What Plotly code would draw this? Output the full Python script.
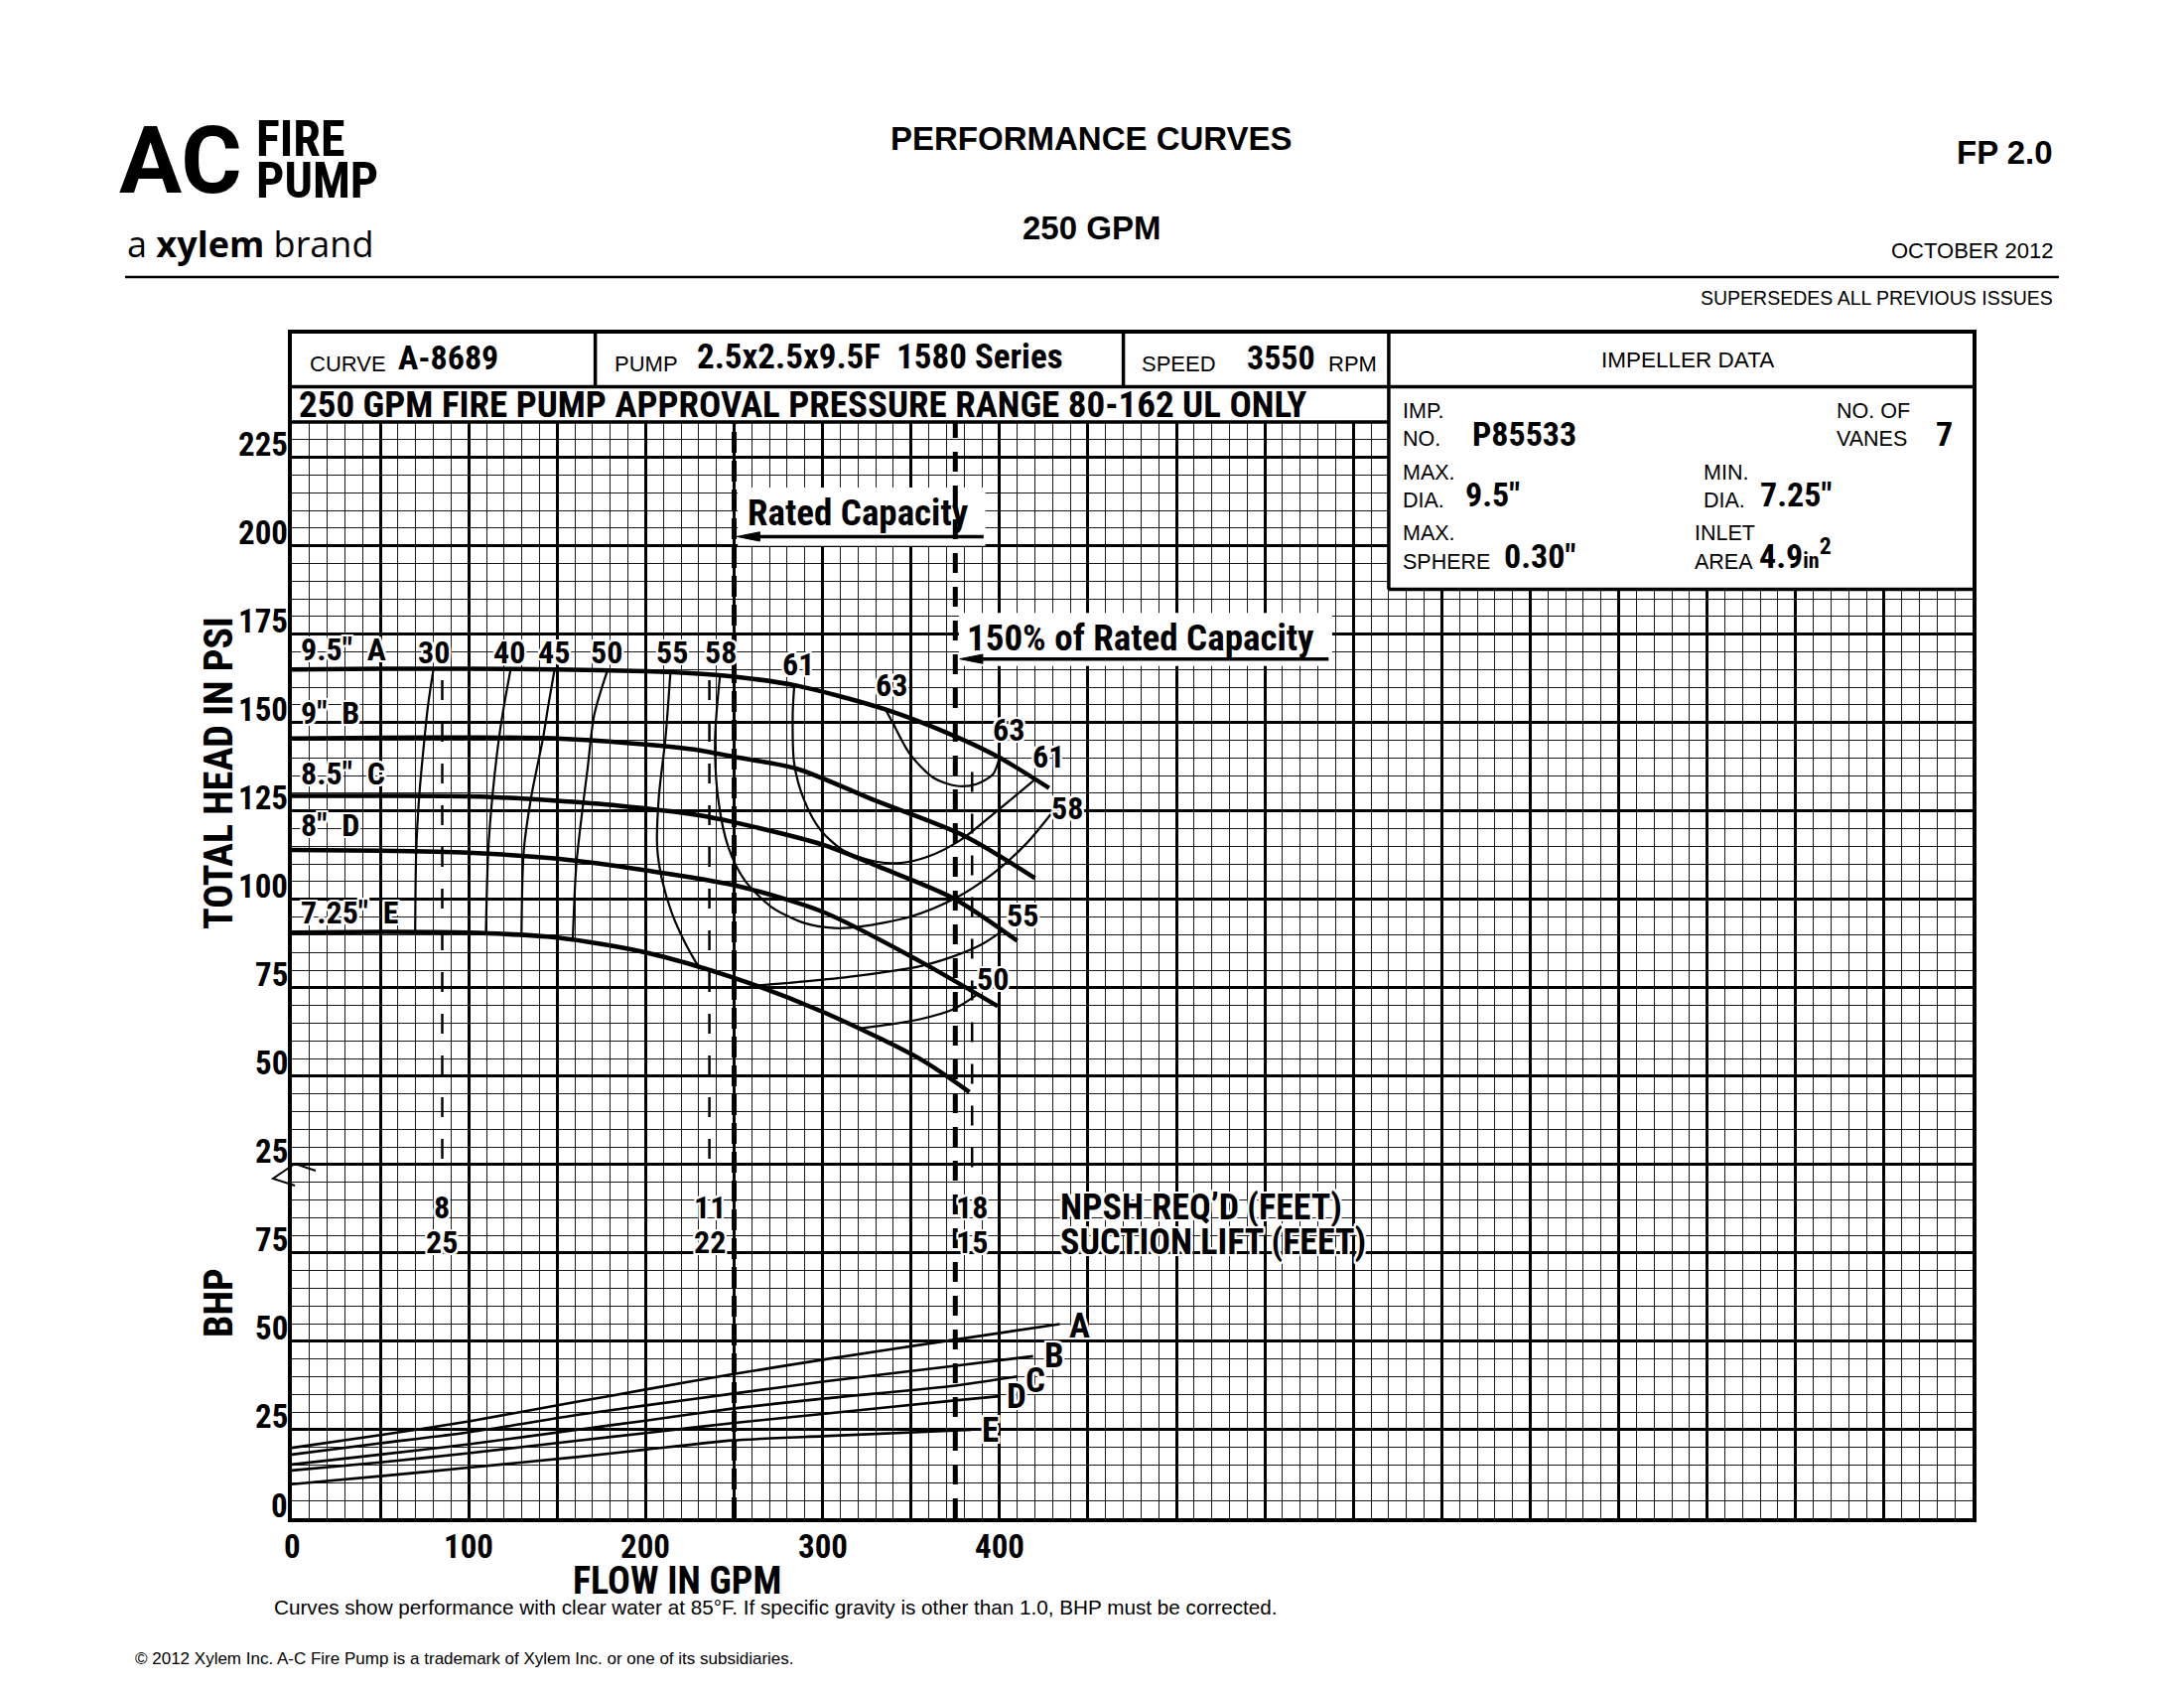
import plotly.graph_objects as go

# ---- Total head (psi) vs flow (gpm) for each impeller trim ----
flow_a = [0, 50, 100, 150, 200, 230, 250, 285, 335, 375, 400, 428]
head_a = [165.0, 165.2, 165.2, 165.0, 164.5, 163.8, 163.0, 160.5, 153.8, 146.1, 140.1, 131.5]
flow_b = [0, 50, 100, 150, 200, 230, 250, 285, 330, 380, 420]
head_b = [145.5, 145.7, 145.8, 145.5, 143.8, 142.2, 140.3, 137.0, 127.9, 118.0, 106.0]
flow_c = [0, 50, 110, 185, 230, 250, 300, 335, 374, 410]
head_c = [129.3, 129.3, 129.0, 126.5, 123.8, 121.8, 115.5, 108.6, 100.3, 88.3]
flow_d = [0, 50, 100, 150, 200, 250, 300, 355, 399]
head_d = [114.0, 113.8, 113.2, 111.5, 108.2, 104.0, 96.5, 82.5, 69.8]
flow_e = [0, 50, 100, 150, 200, 250, 300, 355, 383]
head_e = [90.6, 90.8, 90.6, 89.2, 85.0, 77.8, 68.2, 54.9, 45.5]
trim_labels = ['9.5"\u00a0\u00a0A', '9"\u00a0\u00a0B', '8.5"\u00a0\u00a0C', '8"\u00a0\u00a0D', '7.25"\u00a0\u00a0E']
trim_label_head = [170.6, 152.7, 135.6, 120.9, 96.2]

# ---- Efficiency contours (%) ----
eff30_flow = [80, 77, 75, 72, 70.3, 69.7]
eff30_head = [165.0, 155, 145.7, 129.3, 113.8, 90.8]
eff40_flow = [123.7, 120, 117.1, 113.4, 111, 109.7]
eff40_head = [165.2, 155, 145.7, 129.3, 113.8, 90.8]
eff45_flow = [148.5, 145, 142, 135.4, 131.1, 129.8]
eff45_head = [165.0, 155, 145.7, 129.3, 113.8, 90.2]
eff50_flow = [178.4, 170.9, 167.2, 163.5, 160.7, 158.8]
eff50_head = [164.8, 152.2, 137.2, 122.3, 109.2, 88.8]
eff50r_flow = [320, 340, 355, 373.8, 388]
eff50r_head = [63.4, 64.8, 66.1, 68.9, 73.3]
eff55_flow = [214, 211.2, 207.4, 206.5, 209.3, 214.9, 222.4, 230]
eff55_head = [164.4, 145.7, 128.8, 114.8, 105.4, 96.0, 87.6, 80.8]
eff55r_flow = [262, 290, 318, 355, 374, 390, 402]
eff55r_head = [75.6, 76.8, 78.3, 81.1, 83.9, 87.3, 91.2]
eff58_flow = [242, 239.2, 241, 246.7, 256, 271, 289.7, 306.5, 321.5, 349.5, 374.8, 396.3, 415, 429]
eff58_head = [163.4, 145.2, 128.3, 114.8, 105.4, 97.9, 93.3, 91.9, 92.3, 95.1, 100.3, 107.3, 115.7, 124.1]
eff61_flow = [284, 283.1, 284, 289.7, 299, 312, 331, 344, 359, 377.7, 396.4, 419.8]
eff61_head = [160.6, 152.2, 138.2, 127.9, 119.5, 113.8, 110.6, 110.3, 112.0, 116.7, 124.1, 133.8]
eff63_flow = [335.5, 340.2, 349.5, 362.6, 375.7, 386.9, 396.3, 400]
eff63_head = [153.8, 149.4, 141.0, 134.4, 132.1, 132.6, 135.4, 140.1]
eff_top_labels = ['30', '40', '45', '50', '55', '58', '61', '63']
eff_top_flow = [80.3, 122.9, 148, 178, 215, 242.6, 286, 338.7]
eff_top_head = [170, 170, 170, 170, 170, 170, 166.4, 160.5]
eff_right_labels = ['63', '61', '58', '55', '50']
eff_right_flow = [405, 427.7, 438, 412.8, 396]
eff_right_head = [147.9, 140.5, 125.9, 95.5, 77.4]

# ---- NPSH required / suction lift ----
npsh_flow = [85, 236, 384.5]
npsh_top_head = [162, 162, 136]
npsh_req = ['8', '11', '18']
suction_lift = ['25', '22', '15']

# ---- Brake horsepower ----
bhp_flow_a = [0, 50, 100, 161, 200, 249, 301, 375, 434]
bhp_a = [19.9, 23.5, 27.4, 32.9, 36.4, 40.7, 44.9, 50.5, 54.9]
bhp_flow_b = [0, 50, 100, 161, 200, 249, 300, 375, 419]
bhp_b = [18.0, 21.2, 24.3, 29.2, 31.9, 35.2, 38.6, 43.1, 45.8]
bhp_flow_c = [0, 50, 100, 161, 200, 249, 300, 375, 410]
bhp_c = [15.2, 18.0, 20.9, 25.0, 27.6, 31.0, 33.8, 37.5, 40.1]
bhp_flow_d = [0, 50, 100, 161, 200, 249, 300, 375, 400]
bhp_d = [13.5, 15.8, 18.4, 21.9, 24.1, 26.9, 29.5, 33.3, 34.5]
bhp_flow_e = [0, 50, 100, 161, 200, 249, 300, 384]
bhp_e = [9.6, 11.9, 14.3, 17.3, 19.4, 22.0, 23.2, 25.0]
bhp_labels = ['A', 'B', 'C', 'D', 'E']
bhp_label_flow = [445, 431, 420.5, 409.5, 394.6]
bhp_label_val = [54.4, 46, 39, 34.3, 24.8]

# ---- axes ----
rated_flow = 250
flow_150 = 375
head_ticks = [25, 50, 75, 100, 125, 150, 175, 200, 225]
bhp_ticks = [0, 25, 50, 75]
flow_ticks = [0, 100, 200, 300, 400]

COND = ("Roboto Condensed, Noto Sans Condensed, Liberation Sans Narrow, Arial Narrow, "
        "DejaVu Sans Condensed, sans-serif")
REG = "Liberation Sans, Arial, sans-serif"
HALO = ("white 2px 0px 0px, white -2px 0px 0px, white 0px 2px 0px, white 0px -2px 0px, "
        "white 2px 2px 0px, white -2px -2px 0px, white 2px -2px 0px, white -2px 2px 0px")

# page is drawn inside the browser's default 8px body margin
OFF = 8
W, H = 2200 - 2 * OFF, 1700 - 2 * OFF
# plot area in reference-page pixels
PL, PR, PT, PB = 294, 1987, 336, 1529


def px(x):
    return (x - PL) / (PR - PL)


def py(y):
    return (PB - y) / (PB - PT)


fig = go.Figure()
annos = []
shapes = []


def note(text, x, y, size, family=COND, xanchor='center', yanchor='middle',
         xref='x', yref='y', halo=False, weight=None, **kw):
    font = dict(family=family, size=size, color='black')
    if halo:
        font['shadow'] = HALO
    if weight:
        font['weight'] = weight
    annos.append(dict(text=text, x=x, y=y, xref=xref, yref=yref, showarrow=False,
                      xanchor=xanchor, yanchor=yanchor, font=font, **kw))


def box(x0, x1, y0, y1):
    shapes.append(dict(type='rect', xref='x', yref='y', x0=x0, x1=x1, y0=y0, y1=y1,
                       fillcolor='white', line=dict(width=0), layer='between'))


def hline(x0, x1, y, w=3.5):
    shapes.append(dict(type='line', xref='x', yref='y', x0=x0, x1=x1, y0=y, y1=y,
                       line=dict(color='black', width=w), layer='between'))


def vline(x, y0, y1, w=3.5):
    shapes.append(dict(type='line', xref='x', yref='y', x0=x, x1=x, y0=y0, y1=y1,
                       line=dict(color='black', width=w), layer='between'))


def arrow(x_tip, x_tail, y):
    # shaft plus a slim filled head pointing left
    shapes.append(dict(type='line', xref='x', yref='y', x0=x_tip + 6, x1=x_tail, y0=y, y1=y,
                       line=dict(color='black', width=3.5)))
    shapes.append(dict(type='path', xref='x', yref='y', fillcolor='black',
                       line=dict(color='black', width=1),
                       path='M %.2f,%.2f L %.2f,%.2f L %.2f,%.2f Z' % (
                           x_tip, y, x_tip + 13, y + 1.3, x_tip + 13, y - 1.3)))


# header rows and impeller box sit on top of the grid
box(0, 950, 310, 335)
box(620, 950, 262.7, 335)
box(252, 392, 275, 291.5)      # Rated Capacity label
box(377, 588, 241, 256)        # 150% label
hline(0, 950, 320)
hline(0, 620, 310)
hline(620, 950, 262.7)
vline(620, 262.7, 335)
vline(171.5, 320, 335)
vline(470, 320, 335)

# rated / 150% dashed lines
fig.add_trace(go.Scatter(x=[rated_flow, rated_flow], y=[0, 310], mode='lines',
                         line=dict(color='black', width=5, dash='21px,8px')))
fig.add_trace(go.Scatter(x=[flow_150, flow_150], y=[0, 310], mode='lines',
                         line=dict(color='black', width=5, dash='20px,14px')))

# NPSH dashed markers
for f, top in zip(npsh_flow, npsh_top_head):
    fig.add_trace(go.Scatter(x=[f, f], y=[top, 23], yaxis='y2', mode='lines',
                             line=dict(color='black', width=2.5, dash='20px,22px')))

# efficiency contours
eff_curves = [(eff30_flow, eff30_head), (eff40_flow, eff40_head), (eff45_flow, eff45_head),
              (eff50_flow, eff50_head), (eff50r_flow, eff50r_head), (eff55_flow, eff55_head),
              (eff55r_flow, eff55r_head), (eff58_flow, eff58_head), (eff61_flow, eff61_head),
              (eff63_flow, eff63_head)]
for fx, hy in eff_curves:
    fig.add_trace(go.Scatter(x=fx, y=hy, yaxis='y2', mode='lines',
                             line=dict(color='black', width=2.2, shape='spline', smoothing=0.8)))

# head curves
head_curves = [(flow_a, head_a), (flow_b, head_b), (flow_c, head_c), (flow_d, head_d), (flow_e, head_e)]
for fx, hy in head_curves:
    fig.add_trace(go.Scatter(x=fx, y=hy, yaxis='y2', mode='lines',
                             line=dict(color='black', width=4.5, shape='spline', smoothing=0.8)))

# bhp curves
bhp_curves = [(bhp_flow_a, bhp_a), (bhp_flow_b, bhp_b), (bhp_flow_c, bhp_c),
              (bhp_flow_d, bhp_d), (bhp_flow_e, bhp_e)]
for fx, by in bhp_curves:
    fig.add_trace(go.Scatter(x=fx, y=by, mode='lines',
                             line=dict(color='black', width=2.6, shape='spline', smoothing=0.6)))

# ---- labels inside the chart ----
for t, h in zip(trim_labels, trim_label_head):
    note('<b>%s</b>' % t, 4, h, 32, xanchor='left', yref='y2', halo=True)
for t, f, h in zip(eff_top_labels, eff_top_flow, eff_top_head):
    note('<b>%s</b>' % t, f, h, 32, yref='y2', halo=True)
for t, f, h in zip(eff_right_labels, eff_right_flow, eff_right_head):
    note('<b>%s</b>' % t, f, h, 32, yref='y2', halo=True)
for f, n, s in zip(npsh_flow, npsh_req, suction_lift):
    note('<b>%s</b>' % n, f, 88, 32, halo=True)
    note('<b>%s</b>' % s, f, 78, 32, halo=True)
note("<b>NPSH REQ\u2019D (FEET)</b>", 433, 88, 36, xanchor='left', halo=True)
note("<b>SUCTION LIFT (FEET)</b>", 433, 78, 36, xanchor='left', halo=True)
for t, f, b in zip(bhp_labels, bhp_label_flow, bhp_label_val):
    note('<b>%s</b>' % t, f, b, 35, halo=True)

note('<b>Rated Capacity</b>', 320, 284.3, 37)
note('<b>150% of Rated Capacity</b>', 480, 249, 37)
arrow(rated_flow + 1.5, 391, 277.6)
arrow(flow_150 + 2.5, 586, 243)

# header rows
note('CURVE', 9, 322.5, 22, family=REG, xanchor='left', yanchor='bottom')
note('<b>A-8689</b>', 59, 322, 34, xanchor='left', yanchor='bottom')
note('PUMP', 181, 322.5, 22, family=REG, xanchor='left', yanchor='bottom')
note('<b>2.5x2.5x9.5F\u00a0\u00a01580 Series</b>', 228, 322, 35, xanchor='left', yanchor='bottom')
note('SPEED', 479, 322.5, 22, family=REG, xanchor='left', yanchor='bottom')
note('<b>3550</b>', 538.5, 322, 34, xanchor='left', yanchor='bottom')
note('RPM', 584.5, 322.5, 22, family=REG, xanchor='left', yanchor='bottom')
note('<b>250 GPM FIRE PUMP APPROVAL PRESSURE RANGE 80-162 UL ONLY</b>', 3, 315, 37,
     xanchor='left')

# impeller data box
note('IMPELLER DATA', 789, 327.5, 22.5, family=REG)
note('IMP.', 627, 309.2, 21.5, family=REG, xanchor='left', yanchor='bottom')
note('NO.', 627, 301.3, 21.5, family=REG, xanchor='left', yanchor='bottom')
note('<b>P85533</b>', 666, 300.6, 34, xanchor='left', yanchor='bottom')
note('NO. OF', 872, 309.2, 21.5, family=REG, xanchor='left', yanchor='bottom')
note('VANES', 872, 301.3, 21.5, family=REG, xanchor='left', yanchor='bottom')
note('<b>7</b>', 934, 300.6, 34, yanchor='bottom')
note('MAX.', 627, 291.8, 21.5, family=REG, xanchor='left', yanchor='bottom')
note('DIA.', 627, 283.9, 21.5, family=REG, xanchor='left', yanchor='bottom')
note('<b>9.5"</b>', 662, 283.2, 34, xanchor='left', yanchor='bottom')
note('MIN.', 797, 291.8, 21.5, family=REG, xanchor='left', yanchor='bottom')
note('DIA.', 797, 283.9, 21.5, family=REG, xanchor='left', yanchor='bottom')
note('<b>7.25"</b>', 829, 283.2, 34, xanchor='left', yanchor='bottom')
note('MAX.', 627, 274.5, 21.5, family=REG, xanchor='left', yanchor='bottom')
note('SPHERE', 627, 266.6, 21.5, family=REG, xanchor='left', yanchor='bottom')
note('<b>0.30"</b>', 684, 265.9, 34, xanchor='left', yanchor='bottom')
note('INLET', 792, 274.5, 21.5, family=REG, xanchor='left', yanchor='bottom')
note('AREA', 792, 266.6, 21.5, family=REG, xanchor='left', yanchor='bottom')
note('<b>4.9<span style="font-size:22px">in</span><sup>2</sup></b>', 828, 265.9, 34,
     xanchor='left', yanchor='bottom')

# ---- axis labels ----
for h in head_ticks:
    note('<b>%d</b>' % h, 0, h, 33, xanchor='right', yref='y2', xshift=-2, yshift=13)
for b in bhp_ticks:
    note('<b>%d</b>' % b, 0, b, 33, xanchor='right', xshift=-2, yshift=13)
for f in flow_ticks:
    note('<b>%d</b>' % f, f, 0, 33, yref='paper', yshift=-28)
note('<b>TOTAL HEAD IN PSI</b>', px(220), py(779), 40, xref='paper', yref='paper', textangle=-90)
note('<b>BHP</b>', px(220), py(1312), 40, xref='paper', yref='paper', textangle=-90)
note('<b>FLOW IN GPM</b>', px(682), py(1592), 38, xref='paper', yref='paper')

# axis break mark
brk = [(318, 1179), (297, 1172), (275, 1187), (297, 1194)]
path = 'M ' + ' L '.join('%.5f,%.5f' % (px(a), py(b)) for a, b in brk)
shapes.append(dict(type='path', xref='paper', yref='paper', path=path,
                   line=dict(color='black', width=2)))

# ---- page header / footer ----
note('<b>AC</b>', px(246), py(162), 94, family="Roboto, Liberation Sans, sans-serif",
     xref='paper', yref='paper', xanchor='right', weight=900)
note('<b>FIRE</b>', px(256), py(140), 50, xref='paper', yref='paper', xanchor='left')
note('<b>PUMP</b>', px(256), py(182), 50, xref='paper', yref='paper', xanchor='left')
note('a <b>xylem</b> brand', px(126), py(246), 36, family="Open Sans, Liberation Sans, sans-serif",
     xref='paper', yref='paper', xanchor='left')
note('<b>PERFORMANCE CURVES</b>', px(1099), py(140), 33, family=REG, xref='paper', yref='paper')
note('<b>250 GPM</b>', px(1099), py(229), 33, family=REG, xref='paper', yref='paper')
note('<b>FP 2.0</b>', px(2070), py(154), 33, family=REG, xref='paper', yref='paper', xanchor='right')
note('OCTOBER 2012', px(2070), py(253), 22, family=REG, xref='paper', yref='paper', xanchor='right')
note('SUPERSEDES ALL PREVIOUS ISSUES', px(2070), py(300), 19.5, family=REG, xref='paper',
     yref='paper', xanchor='right')
shapes.append(dict(type='line', xref='paper', yref='paper', x0=px(126), x1=px(2074),
                   y0=py(279), y1=py(279), line=dict(color='black', width=2.5)))
note('Curves show performance with clear water at 85\u00b0F. If specific gravity is other than 1.0, '
     'BHP must be corrected.', px(274), py(1618), 20.7, family=REG, xref='paper', yref='paper',
     xanchor='left')
note('\u00a9 2012 Xylem Inc. A-C Fire Pump is a trademark of Xylem Inc. or one of its subsidiaries.',
     px(134), py(1670), 17, family=REG, xref='paper', yref='paper', xanchor='left')

fig.update_layout(
    width=W, height=H,
    margin=dict(l=PL - OFF, r=W - (PR - OFF), t=PT - OFF, b=H - (PB - OFF), autoexpand=False),
    paper_bgcolor='white', plot_bgcolor='white', showlegend=False,
    xaxis=dict(range=[0, 950], tick0=0, dtick=50, showgrid=True, gridcolor='black', gridwidth=2.6,
               minor=dict(tick0=0, dtick=10, showgrid=True, gridcolor='#1a1a1a', gridwidth=1.2),
               showticklabels=False, ticks='', zeroline=False,
               showline=True, linecolor='black', linewidth=4, mirror=True),
    yaxis=dict(range=[0, 335], tick0=0, dtick=25, showgrid=True, gridcolor='black', gridwidth=2.6,
               minor=dict(tick0=0, dtick=5, showgrid=True, gridcolor='#1a1a1a', gridwidth=1.2),
               showticklabels=False, ticks='', zeroline=False,
               showline=True, linecolor='black', linewidth=4, mirror=True),
    yaxis2=dict(range=[-75, 260], overlaying='y', showgrid=False, showticklabels=False,
                ticks='', zeroline=False, showline=False),
    annotations=annos,
    shapes=shapes,
)

fig.write_html("out.html")
